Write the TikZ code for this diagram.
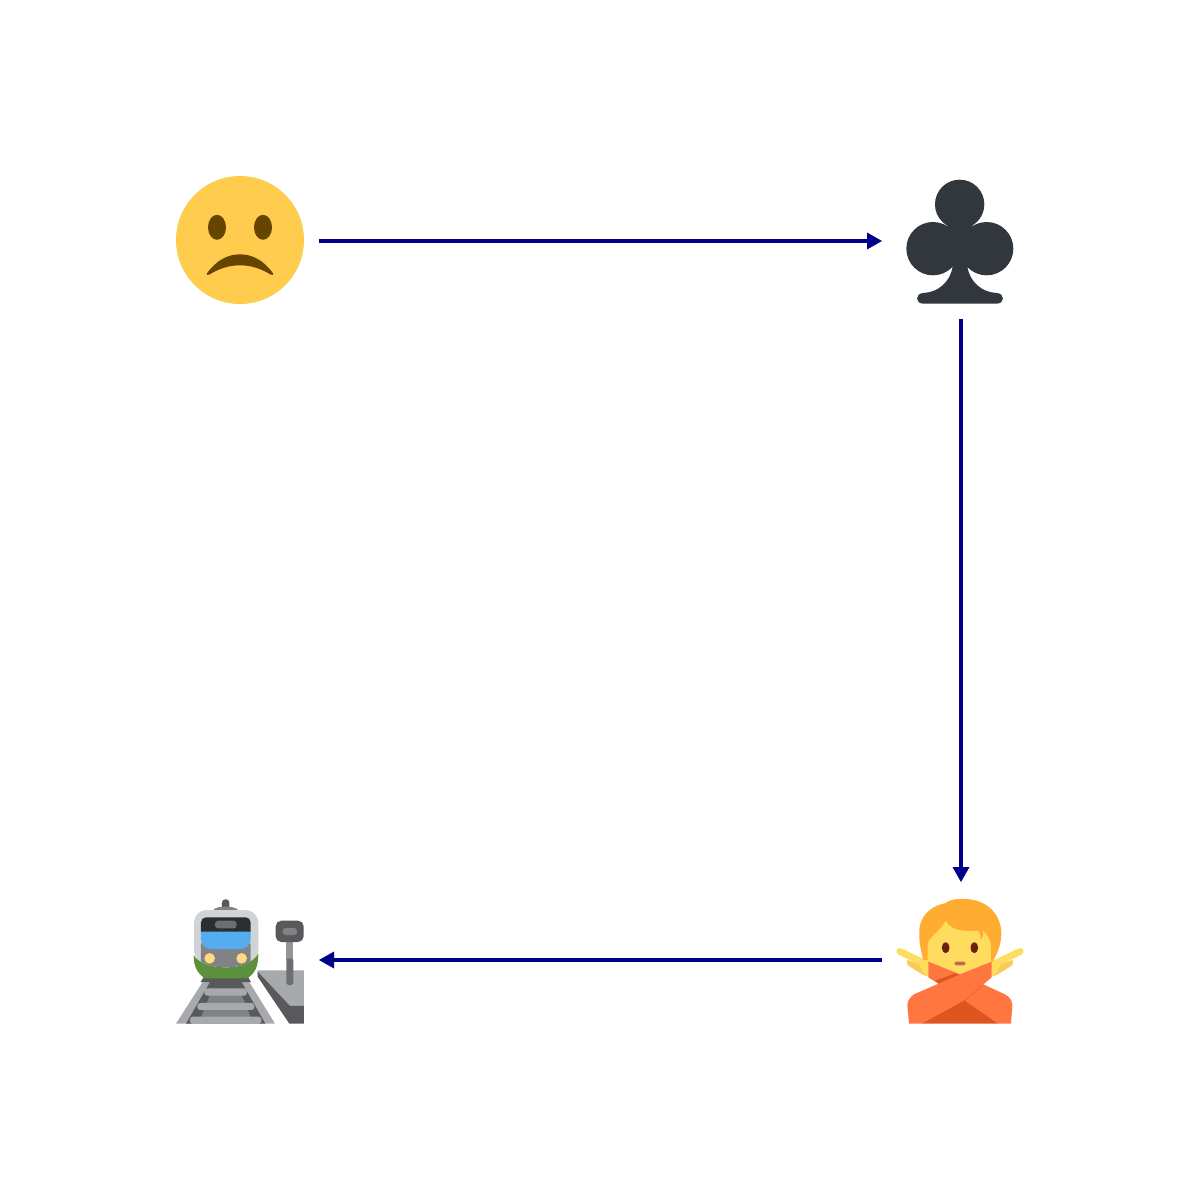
\documentclass[tikz,border=0pt]{standalone}
\usetikzlibrary{arrows.meta}
\definecolor{linkblue}{HTML}{00008B}
\definecolor{faceyel}{HTML}{FFCC4D}
\definecolor{facedark}{HTML}{664500}
\definecolor{clubdark}{HTML}{31373D}
\definecolor{gA}{HTML}{A7A9AC}
\definecolor{gB}{HTML}{58595B}
\definecolor{gC}{HTML}{808285}
\definecolor{gD}{HTML}{D1D3D4}
\definecolor{gE}{HTML}{6D6E71}
\definecolor{gF}{HTML}{939598}
\definecolor{winddark}{HTML}{292F33}
\definecolor{windblue}{HTML}{55ACEE}
\definecolor{traingreen}{HTML}{5C913B}
\definecolor{lamp}{HTML}{FFD983}
\definecolor{hair}{HTML}{FFAC33}
\definecolor{skin}{HTML}{FFDC5D}
\definecolor{skinsh}{HTML}{F9CA55}
\definecolor{eye}{HTML}{662113}
\definecolor{mouth}{HTML}{C1694F}
\definecolor{shirt}{HTML}{FF7640}
\definecolor{shirtdk}{HTML}{DD551F}
\tikzset{
  icon/.style={inner sep=0pt,outer sep=0pt,minimum width=158mm,minimum height=156mm},
  link/.style={draw=linkblue,line width=4mm,-{Triangle[length=15mm,width=17mm,line width=0pt,fill=linkblue]}},
  zoomA/.style={shift={(#1)},x=0.3333mm,y=-0.3333mm}
}
\begin{document}
\begin{tikzpicture}[x=1mm,y=-1mm]
\useasboundingbox (0,0) rectangle (1200,1200);
\fill[white] (0,0) rectangle (1200,1200);
\node[icon] (sad) at (240,241) {};
\node[icon] (club) at (961,241) {};
\node[icon] (person) at (961,960) {};
\node[icon] (train) at (240,960) {};
\draw[link] (sad) -- (club);
\draw[link] (club) -- (person);
\draw[link] (person) -- (train);
% sad face
\fill[faceyel] (240,240) circle[radius=64];
\fill[facedark] (217,227.3) ellipse[x radius=9,y radius=12.5];
\fill[facedark] (263,227.3) ellipse[x radius=9,y radius=12.5];
\fill[facedark,line join=round] (207.5,272.5) .. controls (217,260) and (228,254.3) .. (240,254.3)
  .. controls (252,254.3) and (263,260) .. (272.5,272.5)
  .. controls (274,275) and (272.5,275.5) .. (270.5,274.5)
  .. controls (260,268) and (250,265.3) .. (240,265.3)
  .. controls (230,265.3) and (220,268) .. (209.5,274.5)
  .. controls (207.5,275.5) and (206,275) .. (207.5,272.5) -- cycle;
% club
\begin{scope}[zoomA={860,160}]
\fill[clubdark] (299,133) circle[radius=74];
\fill[clubdark] (219,266) circle[radius=80];
\fill[clubdark] (380,266) circle[radius=80];
\fill[clubdark] (262,190) -- (338,190) -- (340,270) -- (322,320) -- (278,320) -- (260,270) -- cycle;
\fill[clubdark] (278,318) .. controls (272,365) and (235,397) .. (190,399)
  .. controls (165,400) and (165,431) .. (190,431) -- (410,431)
  .. controls (435,431) and (435,400) .. (410,399)
  .. controls (365,397) and (328,365) .. (322,318) -- cycle;
\end{scope}
% person
\begin{scope}[zoomA={880,860}]
\fill[skinsh] (82,300) -- (145,322) -- (145,350) -- (130,345) -- (90,320) .. controls (80,315) and (78,305) .. (82,300) -- cycle;
\fill[skin] (110,300) -- (145,300) -- (145,350) -- (130,340) -- cycle;
\fill[skin] (50,270) .. controls (52,264) and (60,263) .. (66,266) -- (145,304) -- (145,325) -- (135,322) -- (58,285) .. controls (50,281) and (48,276) .. (50,270) -- cycle;
\fill[skinsh] (398,300) -- (335,322) -- (335,350) -- (350,345) -- (390,320) .. controls (400,315) and (402,305) .. (398,300) -- cycle;
\fill[skin] (370,300) -- (335,300) -- (335,350) -- (350,340) -- cycle;
\fill[skin] (430,270) .. controls (428,264) and (420,263) .. (414,266) -- (335,304) -- (335,325) -- (345,322) -- (422,285) .. controls (430,281) and (432,276) .. (430,270) -- cycle;
\fill[hair] (130,300) .. controls (118,260) and (115,220) .. (120,195)
  .. controls (130,155) and (165,135) .. (195,130)
  .. controls (215,115) and (245,115) .. (270,118)
  .. controls (325,125) and (365,165) .. (364,225)
  .. controls (363,255) and (350,285) .. (338,305) -- cycle;
\fill[skin] (143,310) -- (143,255) .. controls (145,230) and (180,215) .. (197,183)
  .. controls (215,215) and (260,215) .. (292,212)
  .. controls (303,220) and (305,235) .. (296,243)
  .. controls (310,235) and (312,220) .. (308,212)
  .. controls (322,222) and (333,240) .. (333,265) -- (333,310) -- (240,350) -- cycle;
\fill[eye] (197,263) ellipse[x radius=11.5,y radius=16.5];
\fill[eye] (283,263) ellipse[x radius=11.5,y radius=16.5];
\fill[mouth,rounded corners=4pt] (224,305) rectangle (256,316);
% under-arm
\fill[shirt] (145,305) -- (240,343) -- (310,373) -- (375,403)
  .. controls (392,412) and (397,425) .. (397,438) -- (393,491) -- (355,491) -- (255,422) -- (145,352) -- cycle;
\fill[shirtdk] (125,491) -- (355,491) -- (255,422) -- (310,375) -- (295,370) -- (210,410) -- cycle;
\fill[shirtdk] (166,362) -- (178,372) -- (240,345) -- (225,340) -- cycle;
% top arm
\fill[shirt] (335,305) -- (335,352) -- (255,420) -- (125,491) -- (87,491) -- (82,437)
  .. controls (82,422) and (90,412) .. (102,403) -- (240,343) -- cycle;
\end{scope}
% train
\begin{scope}[zoomA={160,880}]
% rails
\fill[gA] (48,431) -- (128,306) -- (268,306) -- (345,431) -- cycle;
\fill[gB] (78,431) -- (150,306) -- (245,306) -- (316,431) -- cycle;
\fill[gB] (122,306) -- (135,285) -- (260,285) -- (273,306) -- cycle;
\fill[gC] (115,431) -- (150,345) -- (245,345) -- (280,431) -- cycle;
\fill[gA,rounded corners=8pt] (133,325) rectangle (261,347);
\fill[gA,rounded corners=8pt] (112,369) rectangle (283,390);
\fill[gA,rounded corners=8pt] (90,410) rectangle (304,432);
% platform
\fill[gA] (293,271) -- (432,271) -- (432,378) -- (390,378) -- (293,281) -- cycle;
\fill[gB] (293,275) -- (390,378) -- (432,378) -- (432,431) -- (388,431) -- (293,290) -- cycle;
% signal
\fill[gF] (379,170) rectangle (400,240);
\fill[gE,rounded corners=5pt] (379,235) rectangle (400,315);
\fill[gB,rounded corners=16pt] (347,122) rectangle (431,186);
\fill[gC,rounded corners=8pt] (368,144) rectangle (411,165);
% train body
\fill[gB,rounded corners=9pt] (186,58) rectangle (208,100);
\fill[gC] (158,92) .. controls (165,82) and (180,80) .. (197,80) .. controls (214,80) and (229,82) .. (236,92) -- cycle;
\fill[gD,rounded corners=36pt] (102,250) -- (102,90) -- (295,90) -- (295,250) -- cycle;
\fill[traingreen] (101,226) .. controls (120,255) and (165,262) .. (198,262)
  .. controls (232,262) and (275,255) .. (295,221)
  .. controls (295,260) and (285,280) .. (262,295) -- (135,295)
  .. controls (112,280) and (101,260) .. (101,226) -- cycle;
\fill[gC] (123,190) -- (272,190) -- (272,245) .. controls (250,258) and (225,262) .. (198,262)
  .. controls (170,262) and (145,258) .. (123,245) -- cycle;
\fill[winddark] (123,156) -- (123,127) .. controls (123,118) and (130,112) .. (138,112) -- (257,112)
  .. controls (265,112) and (272,118) .. (272,127) -- (272,156) -- cycle;
\fill[gE,rounded corners=9pt] (165,122) rectangle (230,145);
\fill[windblue] (123,155) -- (272,155) -- (272,178) .. controls (272,195) and (258,207) .. (240,207) -- (155,207)
  .. controls (137,207) and (123,195) .. (123,178) -- cycle;
\fill[lamp] (149,235) circle[radius=16];
\fill[lamp] (245,235) circle[radius=16];
\end{scope}
\end{tikzpicture}
\end{document}
